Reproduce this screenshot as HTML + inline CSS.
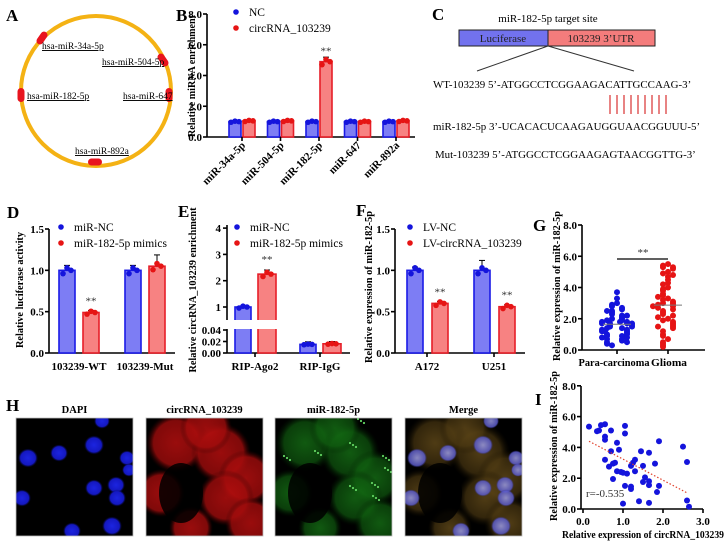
<!DOCTYPE html>
<html><head><meta charset="utf-8">
<style>
html,body{margin:0;padding:0;background:#fff;}
svg{display:block;font-family:"Liberation Serif",serif;}
</style></head>
<body>
<svg id="fig" width="728" height="544" viewBox="0 0 728 544" xmlns="http://www.w3.org/2000/svg">
<defs>
<radialGradient id="gb" cx="50%" cy="50%" r="50%"><stop offset="0" stop-color="#1c24e0"/><stop offset="0.75" stop-color="#1418c0"/><stop offset="1" stop-color="#060850" stop-opacity="0"/></radialGradient>
<radialGradient id="gr" cx="50%" cy="50%" r="50%"><stop offset="0" stop-color="#c01010"/><stop offset="0.75" stop-color="#a00c0c"/><stop offset="1" stop-color="#300000" stop-opacity="0"/></radialGradient>
<radialGradient id="gg" cx="50%" cy="50%" r="50%"><stop offset="0" stop-color="#1a8a1a"/><stop offset="0.7" stop-color="#106010"/><stop offset="1" stop-color="#001800" stop-opacity="0"/></radialGradient>
<radialGradient id="go" cx="50%" cy="50%" r="50%"><stop offset="0" stop-color="#7a5c20"/><stop offset="0.7" stop-color="#4e3a12"/><stop offset="1" stop-color="#181000" stop-opacity="0"/></radialGradient>
<radialGradient id="gm" cx="50%" cy="50%" r="50%"><stop offset="0" stop-color="#9a9ae0"/><stop offset="0.8" stop-color="#5a5ac8"/><stop offset="1" stop-color="#3030a0" stop-opacity="0"/></radialGradient>
</defs>
</svg>
<script>
// ---------- data ----------
const bCats = ["miR-34a-5p","miR-504-5p","miR-182-5p","miR-647","miR-892a"];
const bNC = [1.0,1.0,1.0,1.0,1.0];
const bCirc = [1.05,1.05,4.9,1.0,1.05];
const bYTicks = ["0.0","2.0","4.0","6.0","8.0"];
const dCats = ["103239-WT","103239-Mut"];
const dNC = [1.0,1.0];
const dMim = [0.49,1.05];
const dYTicks = ["0.0","0.5","1.0","1.5"];
const eCats = ["RIP-Ago2","RIP-IgG"];
const eNC = [1.0,0.015];
const eMim = [2.25,0.016];
const eUpperTicks = ["1","2","3","4"];
const eLowerTicks = ["0.00","0.02","0.04"];
const fCats = ["A172","U251"];
const fNC = [1.0,1.0];
const fLV = [0.6,0.56];
const gCats = ["Para-carcinoma","Glioma"];
const gPara = [3.7,3.3,3.0,2.9,2.8,2.7,2.6,2.5,2.4,2.3,2.2,2.1,2.0,2.0,1.9,1.9,1.8,1.8,1.7,1.7,1.7,1.7,1.6,1.6,1.5,1.5,1.4,1.4,1.3,1.3,1.2,1.2,1.1,1.0,1.0,0.9,0.9,0.8,0.8,0.7,0.7,0.6,0.5,0.5,0.4,0.3,2.5,2.2,1.8,1.2];
const gGlioma = [5.5,5.4,5.3,5.3,5.2,5.0,4.9,4.7,4.5,4.3,4.2,4.0,3.9,3.8,3.6,3.5,3.3,3.2,3.1,3.0,3.0,2.9,2.9,2.8,2.7,2.6,2.5,2.4,2.3,2.2,2.0,1.9,1.8,1.7,1.6,1.5,1.5,1.4,1.2,1.0,0.9,0.7,0.5,0.4,0.3,0.2,3.4,2.8,2.1,4.8];
const gYTicks = ["0.0","2.0","4.0","6.0","8.0"];
const iX = [0.15,0.35,0.4,0.45,0.55,0.55,0.55,0.7,1.05,1.05,0.85,0.9,0.7,0.55,0.65,0.75,0.8,0.75,0.85,0.95,1.0,1.1,1.05,1.2,1.2,1.2,1.25,1.3,1.3,1.45,1.5,1.55,1.5,1.65,1.65,1.65,1.65,1.8,1.9,1.9,1.85,2.5,2.6,2.6,2.65,1.0,1.4];
const iY = [5.35,5.05,5.1,5.45,5.5,4.5,4.7,5.1,5.4,4.9,4.3,3.85,3.75,3.2,2.75,2.95,3.0,1.95,2.45,2.4,2.35,2.3,1.5,1.45,1.3,2.8,3.0,3.2,2.45,3.75,2.8,2.05,1.75,1.8,1.55,3.65,0.4,2.95,4.4,1.5,1.1,4.05,3.05,0.55,0.15,0.35,0.5];
const iFit = [[0.15,4.4],[2.6,1.05]];
const iXTicks = ["0.0","1.0","2.0","3.0"];
const iYTicks = ["0.0","2.0","4.0","6.0","8.0"];

// ---------- helpers ----------
const svg = document.getElementById('fig');
const NS = "http://www.w3.org/2000/svg";
const BF="#7d7df4",BS="#1a1ae6",RF="#f78282",RS="#e61e28",BD="#1414dc",RD="#e61414";
const TS=11, LS=11.5;
function mk(tag, attrs, name, parent){
  const el = document.createElementNS(NS, tag);
  for (const k in attrs) el.setAttribute(k, attrs[k]);
  
  
  (parent||svg).appendChild(el);
  return el;
}
function txt(x,y,s,size,name,opt){
  opt=opt||{};
  const el = mk('text',{x:x,y:y,'font-size':size,'font-weight':opt.bold?'bold':'normal','text-anchor':opt.anchor||'start',fill:opt.fill||'#000'},name,opt.parent);
  if(opt.rot!==undefined) el.setAttribute('transform','rotate('+opt.rot+' '+x+' '+y+')');
  if(opt.ul) el.setAttribute('text-decoration','underline');
  if(opt.len){ el.setAttribute('textLength',opt.len); el.setAttribute('lengthAdjust','spacingAndGlyphs'); }
  el.textContent=s;
  return el;
}
function line(x1,y1,x2,y2,name,opt){
  opt=opt||{};
  return mk('line',{x1:x1,y1:y1,x2:x2,y2:y2,stroke:opt.c||'#000','stroke-width':opt.w||1.6,'stroke-dasharray':opt.dash||'none'},name);
}
function dot(x,y,c,name,r){ return mk('circle',{cx:x,cy:y,r:r||2.8,fill:c},name); }
function panelLabel(x,y,s){ txt(x,y,s,17,'panel-label-'+s.toLowerCase(),{bold:true}); }
function yAxis(ax,yTop,yBot,ticks,yf,name){
  line(ax,yTop,ax,yBot,name+'-y-axis');
  ticks.forEach(t=>{ const y=yf(parseFloat(t)); line(ax-4,y,ax,y,name+'-y-tick'); txt(ax-5,y+4,t,TS,name+'-y-tick-label',{bold:true,anchor:'end'}); });
}
function bar(x0,x1,v,yf,y0,fill,stroke,name){
  const yt=yf(v);
  mk('rect',{x:x0,y:yt,width:x1-x0,height:y0-yt,fill:fill,stroke:stroke,'stroke-width':1.6},name);
}
function reps(cx,v,yf,c,name,sp){
  const offs=[-0.04,0.03,0.0]; const dx=[-4,0,4];
  const top=yf(v*(1+ (sp||0.06)));
  line(cx,yf(v),cx,top,name+'-error-bar',{c:'#000',w:1});
  line(cx-3,top,cx+3,top,name+'-error-cap',{c:'#000',w:1});
  dx.forEach((d,k)=>dot(cx+d,yf(v*(1+offs[k])),c,name+'-replicate'));
}
function legend(x,y,items){
  items.forEach((it,k)=>{ dot(x,y+k*16,it[1],'legend-marker',2.8); txt(x+13,y+k*16+4,it[0],LS,'legend-entry'); });
}
function sig(x,y){ txt(x,y,'**',11,'significance-mark',{anchor:'middle',fill:'#333'}); }

// ---------- Panel A ----------
panelLabel(6,21,'A');
mk('circle',{cx:96,cy:91,r:75,fill:'none',stroke:'#f4b214','stroke-width':4},'circrna-ring');
[[42,38,-55],[163,60,55],[21,95,90],[169,95,90],[95,162,0]].forEach(p=>{
  mk('rect',{x:p[0]-7,y:p[1]-3.5,width:14,height:7,rx:3.5,fill:'#e8141e',transform:'rotate('+p[2]+' '+p[0]+' '+p[1]+')'},'binding-site');
});
txt(42,49,'hsa-miR-34a-5p',9.5,'mirna-label',{ul:true});
txt(102,65,'hsa-miR-504-5p',9.5,'mirna-label',{ul:true});
txt(27,99,'hsa-miR-182-5p',9.5,'mirna-label',{ul:true});
txt(123,99,'hsa-miR-647',9.5,'mirna-label',{ul:true});
txt(75,154,'hsa-miR-892a',9.5,'mirna-label',{ul:true});

// ---------- Panel B ----------
panelLabel(176,21,'B');
const bY = v => 137 - v*(123/8);
yAxis(207,14,137,bYTicks,bY,'b');
line(207,137,415,137,'b-x-axis');
txt(195,76,'Relative miRNA enrichment',TS,'b-y-axis-title',{bold:true,anchor:'middle',rot:-90,len:122});
bCats.forEach((c,i)=>{
  const gc=242+i*38.5;
  bar(gc-13,gc-1,bNC[i],bY,137,BF,BS,'b-bar-nc');
  bar(gc+1,gc+13,bCirc[i],bY,137,RF,RS,'b-bar-circrna');
  reps(gc-7,bNC[i],bY,BD,'b-nc');
  reps(gc+7,bCirc[i],bY,RD,'b-circ');
  line(gc,137,gc,141,'b-x-tick');
  txt(gc+4,146,c,TS,'b-x-tick-label',{bold:true,anchor:'end',rot:-45});
});
sig(249+2*38.5,bY(bCirc[2])-7);
legend(236,12,[['NC',BD],['circRNA_103239',RD]]);

// ---------- Panel C ----------
panelLabel(432,20,'C');
txt(548,22,'miR-182-5p target site',11,'c-title',{anchor:'middle'});
mk('rect',{x:459,y:30,width:89,height:16,fill:'#7272ee',stroke:'#222','stroke-width':1},'luciferase-box');
mk('rect',{x:548,y:30,width:107,height:16,fill:'#f47c7c',stroke:'#222','stroke-width':1},'utr-box');
txt(503,42,'Luciferase',11,'luciferase-label',{anchor:'middle',fill:'#222'});
txt(601,42,'103239 3\u2019UTR',11,'utr-label',{anchor:'middle',fill:'#222'});
line(548,46,477,71,'zoom-line-left',{w:1,c:'#333'});
line(548,46,634,71,'zoom-line-right',{w:1,c:'#333'});
txt(433,88,'WT-103239  5\u2019-ATGGCCTCGGAAGACATTGCCAAG-3\u2019',10.9,'wt-sequence');
for(let k=0;k<9;k++) line(610+k*7,95,610+k*7,114,'base-pair-line',{c:'#d83030',w:1.2});
txt(433,130,'miR-182-5p  3\u2019-UCACACUCAAGAUGGUAACGGUUU-5\u2019',10.9,'mirna-sequence');
txt(435,158,'Mut-103239  5\u2019-ATGGCCTCGGAAGAGTAACGGTTG-3\u2019',10.9,'mut-sequence');

// ---------- Panel D ----------
panelLabel(7,218,'D');
const dY = v => 353 - v*(124/1.5);
yAxis(49,229,353,dYTicks,dY,'d');
line(49,353,175,353,'d-x-axis');
txt(23,290,'Relative luciferase activity',TS,'d-y-axis-title',{bold:true,anchor:'middle',rot:-90,len:116});
dCats.forEach((c,i)=>{
  const gc=79+i*66;
  bar(gc-20,gc-4,dNC[i],dY,353,BF,BS,'d-bar-mir-nc');
  bar(gc+4,gc+20,dMim[i],dY,353,RF,RS,'d-bar-mimics');
  reps(gc-12,dNC[i],dY,BD,'d-nc');
  reps(gc+12,dMim[i],dY,RD,'d-mim',i==1?0.13:0.05);
  txt(gc,370,c,TS,'d-x-tick-label',{bold:true,anchor:'middle'});
});
sig(91,dY(dMim[0])-8);
legend(61,227,[['miR-NC',BD],['miR-182-5p mimics',RD]]);

// ---------- Panel E ----------
panelLabel(178,217,'E');
const eYu = v => 307 - (v-1)*26.3;
const eYl = v => 353 - v*575;
const eY = v => v>=0.5 ? eYu(v) : eYl(v);
line(227,225,227,320,'e-y-axis-upper');
line(227,329,227,353,'e-y-axis-lower');
eUpperTicks.forEach(t=>{const y=eYu(parseFloat(t)); line(223,y,227,y,'e-y-tick'); txt(221,y+4,t,TS,'e-y-tick-label',{bold:true,anchor:'end'});});
eLowerTicks.forEach(t=>{const y=eYl(parseFloat(t)); line(223,y,227,y,'e-y-tick'); txt(221,y+4,t,TS,'e-y-tick-label',{bold:true,anchor:'end'});});
line(227,353,350,353,'e-x-axis');
txt(196,290,'Relative circRNA_103239 enrichment',TS,'e-y-axis-title',{bold:true,anchor:'middle',rot:-90,len:165});
eCats.forEach((c,i)=>{
  const gc=255+i*65;
  bar(gc-20,gc-4,eNC[i],eY,353,BF,BS,'e-bar-mir-nc');
  bar(gc+3,gc+21,eMim[i],eY,353,RF,RS,'e-bar-mimics');
  reps(gc-12,eNC[i],eY,BD,'e-nc',i==1?0.3:0.04);
  reps(gc+12,eMim[i],eY,RD,'e-mim',i==1?0.25:0.07);
  line(gc,353,gc,357,'e-x-tick');
  txt(gc,370,c,TS,'e-x-tick-label',{bold:true,anchor:'middle'});
});
mk('rect',{x:229,y:320,width:120,height:9,fill:'#fff'},'e-axis-break');
sig(267,eY(eMim[0])-11);
legend(237,227,[['miR-NC',BD],['miR-182-5p mimics',RD]]);

// ---------- Panel F ----------
panelLabel(356,216,'F');
const fY = dY;
yAxis(395,229,353,dYTicks,fY,'f');
line(395,353,525,353,'f-x-axis');
txt(372,287,'Relative expression of miR-182-5p',TS,'f-y-axis-title',{bold:true,anchor:'middle',rot:-90,len:152});
fCats.forEach((c,i)=>{
  const gc=427+i*67;
  bar(gc-20,gc-4,fNC[i],fY,353,BF,BS,'f-bar-lv-nc');
  bar(gc+5,gc+21,fLV[i],fY,353,RF,RS,'f-bar-lv-circrna');
  reps(gc-12,fNC[i],fY,BD,'f-nc',i==1?0.12:0.04);
  reps(gc+13,fLV[i],fY,RD,'f-lv',0.04);
  line(gc,353,gc,357,'f-x-tick');
  txt(gc,370,c,TS,'f-x-tick-label',{bold:true,anchor:'middle'});
  sig(gc+13,fY(fLV[i])-8);
});
legend(410,227,[['LV-NC',BD],['LV-circRNA_103239',RD]]);

// ---------- Panel G ----------
panelLabel(533,231,'G');
const gY = v => 350 - v*(125/8);
yAxis(582,225,350,gYTicks,gY,'g');
line(582,350,705,350,'g-x-axis');
txt(560,286,'Relative expression of miR-182-5p',TS,'g-y-axis-title',{bold:true,anchor:'middle',rot:-90,len:150});
const swarm=[0,-5,5,-10,10,-15,15,-7,7,-12,12,-3,3,-17,17];
[gPara,gGlioma].forEach((arr,gi)=>{
  const cx=617+gi*51, col=gi?RD:BD;
  const placed=[];
  arr.forEach(v=>{
    const near=placed.filter(p=>Math.abs(p-v)<0.2).length;
    const off=swarm[near%swarm.length];
    placed.push(v);
    dot(cx+off,gY(v),col,gi?'g-glioma-point':'g-para-point',3);
  });
  const m=arr.reduce((a,b)=>a+b,0)/arr.length;
  line(cx-14,gY(m),cx+14,gY(m),'g-mean-line',{c:'#777',w:1});
  line(cx,350,cx,354,'g-x-tick');
});
txt(614,366,gCats[0],TS,'g-x-tick-label',{bold:true,anchor:'middle',len:71});
txt(669,366,gCats[1],TS,'g-x-tick-label',{bold:true,anchor:'middle',len:36});
line(617,259,668,259,'g-significance-bar',{w:1.2});
sig(643,256);

// ---------- Panel H ----------
panelLabel(6,411,'H');
const hx=[16,146,275,405], hw=117, hy=418, hh=118;
const hTitles=['DAPI','circRNA_103239','miR-182-5p','Merge'];
const nuclei=[[12,40,10],[43,35,9],[78,27,10],[86,3,8],[111,40,8],[113,52,7],[78,70,9],[100,67,9],[101,80,9],[6,80,9],[56,113,9],[96,108,10]];
const cells=[[30,25,30],[75,35,30],[100,60,28],[80,80,28],[105,105,26],[15,75,24],[45,110,22],[60,10,26]];
hx.forEach((x,k)=>{
  const g=mk('g',{},'microscopy-image-'+hTitles[k].toLowerCase().replace(/[^a-z0-9]+/g,'-'));
  mk('rect',{x:x,y:hy,width:hw,height:hh,fill:'#000'},'image-background',g);
  const cp='clip'+k;
  const cl=mk('clipPath',{id:cp},'image-clip',g);
  mk('rect',{x:x,y:hy,width:hw,height:hh},'image-clip-rect',cl);
  const inner=mk('g',{'clip-path':'url(#'+cp+')'},'image-content',g);
  if(k>0){ const gid=['','gr','gg','go'][k];
    cells.forEach(c=>mk('circle',{cx:x+c[0],cy:hy+c[1],r:c[2],fill:'url(#'+gid+')',opacity:k==1?0.8:0.65},'cell-cytoplasm',inner));
    mk('ellipse',{cx:x+35,cy:hy+75,rx:22,ry:30,fill:'#000',opacity:0.85},'dark-region',inner);
  }
  if(k==0||k==3){ nuclei.forEach(n=>mk('ellipse',{cx:x+n[0],cy:hy+n[1],rx:n[2],ry:n[2]*0.95,fill:k==0?'url(#gb)':'url(#gm)',opacity:k==3?0.85:1},'nucleus',inner)); }
  if(k==2){ nuclei.slice(0,9).forEach(n=>{ for(let s=0;s<3;s++) mk('circle',{cx:x+n[0]-3+s*3,cy:hy+n[1]-2+s*2,r:1.1,fill:'#60d060'},'green-foci',inner); }); }
  mk('rect',{x:x,y:hy,width:hw,height:hh,fill:'none',stroke:'#bbb','stroke-width':0.8},'image-border',g);
  txt(x+hw/2,413,hTitles[k],10.5,'h-image-title',{bold:true,anchor:'middle'});
});

// ---------- Panel I ----------
panelLabel(535,405,'I');
const iXs = v => 583 + v*40;
const iYs = v => 509 - v*15.4;
yAxis(581,386,509,iYTicks,iYs,'i');
line(581,509,703,509,'i-x-axis');
iXTicks.forEach(t=>{const x=iXs(parseFloat(t)); line(x,509,x,513,'i-x-tick'); txt(x,525,t,TS,'i-x-tick-label',{bold:true,anchor:'middle'});});
txt(643,538,'Relative expression of circRNA_103239',TS,'i-x-axis-title',{bold:true,anchor:'middle',len:162});
txt(557,446,'Relative expression of miR-182-5p',TS,'i-y-axis-title',{bold:true,anchor:'middle',rot:-90,len:150});
iX.forEach((v,k)=>dot(iXs(v),iYs(iY[k]),BD,'i-point',3));
line(iXs(iFit[0][0]),iYs(iFit[0][1]),iXs(iFit[1][0]),iYs(iFit[1][1]),'i-trend-line',{c:'#e0402a',w:1.2,dash:'1.5,2'});
txt(586,497,'r=-0.535',11,'i-correlation-label',{fill:'#333'});
</script>
</body></html>
